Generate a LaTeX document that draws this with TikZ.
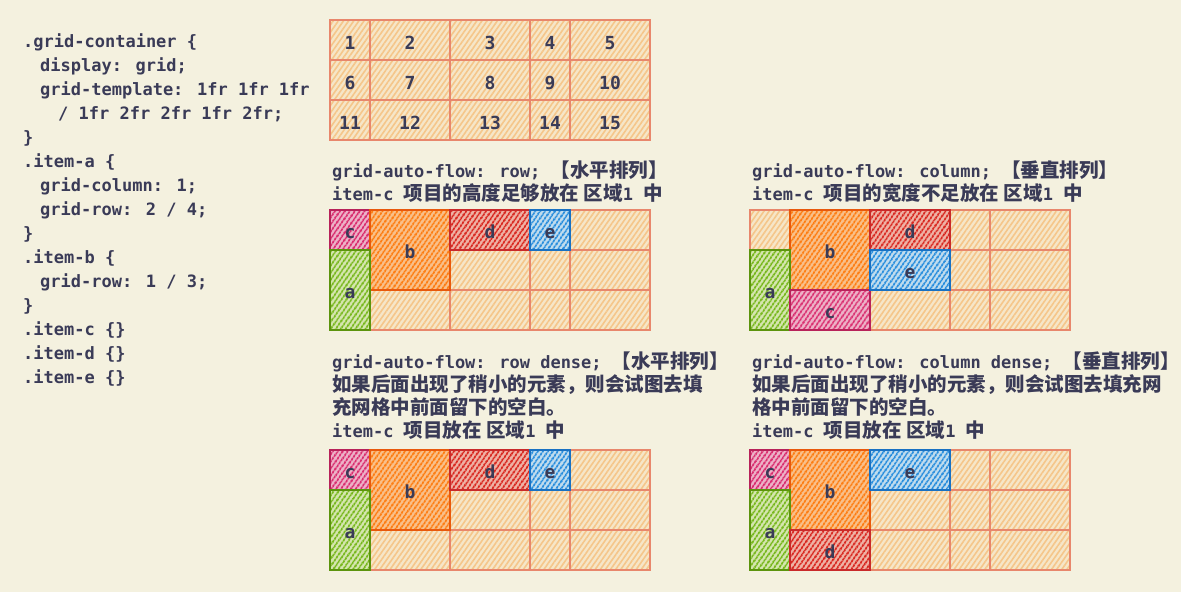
\documentclass[tikz,border=0pt]{standalone}
\usepackage{fontspec}
\setmainfont{DejaVu Sans Mono}
\newfontfamily\cjk{Noto Sans CJK SC}
\usetikzlibrary{patterns.meta}
\definecolor{bg}{HTML}{F4F1DF}
\definecolor{txt}{HTML}{3A3B57}
\definecolor{cellline}{HTML}{E8876C}
\definecolor{cellhatch}{HTML}{F5C68A}
\definecolor{cellfill}{HTML}{F6E6C8}
\definecolor{magS}{HTML}{B8225A}\definecolor{magH}{HTML}{DA2F70}\definecolor{magF}{HTML}{EDB3C8}
\definecolor{oraS}{HTML}{E8590C}\definecolor{oraH}{HTML}{FD7E14}\definecolor{oraF}{HTML}{F9C08A}
\definecolor{redS}{HTML}{C92A2A}\definecolor{redH}{HTML}{D92A22}\definecolor{redF}{HTML}{EFB3A6}
\definecolor{bluS}{HTML}{1971C2}\definecolor{bluH}{HTML}{2B8FDD}\definecolor{bluF}{HTML}{C2DDEE}
\definecolor{grnS}{HTML}{5C940D}\definecolor{grnH}{HTML}{78B81E}\definecolor{grnF}{HTML}{D6E6B0}
\tikzset{
  x=1pt,y=-1pt,
  cell/.style={draw=cellline, line width=1.3pt, preaction={fill=cellfill},
    pattern={Lines[angle=55,distance=4.2pt,line width=1.6pt]}, pattern color=cellhatch},
  itembox/.style={line width=1.8pt, inner sep=0pt, outer sep=0pt, text=txt,
    font=\fontsize{18}{18}\selectfont\bfseries, text height=17pt, text depth=0pt,
    pattern={Lines[angle=55,distance=4pt,line width=2.3pt]}},
  imag/.style={itembox, draw=magS, preaction={fill=magF}, pattern color=magH},
  iora/.style={itembox, draw=oraS, preaction={fill=oraF}, pattern color=oraH},
  ired/.style={itembox, draw=redS, preaction={fill=redF}, pattern color=redH},
  iblu/.style={itembox, draw=bluS, preaction={fill=bluF}, pattern color=bluH},
  igrn/.style={itembox, draw=grnS, preaction={fill=grnF}, pattern color=grnH},
  codeline/.style={anchor=base west, inner sep=0pt, text=txt, font=\fontsize{17}{17}\selectfont\bfseries},
  head/.style={anchor=base west, inner sep=0pt, text=txt, font=\fontsize{17}{17}\selectfont\bfseries},
  num/.style={inner sep=0pt, text=txt, font=\fontsize{18}{18}\selectfont\bfseries},
}
\newcommand\zh[1]{{\cjk\fontsize{19.5}{19.5}\selectfont\bfseries #1}}
\newcommand\drawcellgrid{%
  \foreach \xa/\xb in {0/40,40/120,120/200,200/240,240/320}{
    \foreach \ya/\yb in {0/40,40/80,80/120}{
      \path[cell] (\xa,\ya) rectangle (\xb,\yb);
    }
  }%
}
\begin{document}
\begin{tikzpicture}
\useasboundingbox (0,0) rectangle (1181,592);
\fill[bg] (0,0) rectangle (1181,592);

% code
\node[codeline] (l1) at (23,47) {.grid-container \{};
\node[codeline] (l2) at (40,71) {display: grid;};
\node[codeline] (l3) at (40,95) {grid-template: 1fr 1fr 1fr};
\node[codeline] (l4) at (58,119) {/ 1fr 2fr 2fr 1fr 2fr;};
\node[codeline] (l5) at (23,143) {\}};
\node[codeline] (l6) at (23,167) {.item-a \{};
\node[codeline] (l7) at (40,191) {grid-column: 1;};
\node[codeline] (l8) at (40,215) {grid-row: 2 / 4;};
\node[codeline] (l9) at (23,239) {\}};
\node[codeline] (l10) at (23,263) {.item-b \{};
\node[codeline] (l11) at (40,287) {grid-row: 1 / 3;};
\node[codeline] (l12) at (23,311) {\}};
\node[codeline] (l13) at (23,335) {.item-c \{\}};
\node[codeline] (l14) at (23,359) {.item-d \{\}};
\node[codeline] (l15) at (23,383) {.item-e \{\}};

% top numbered grid
\begin{scope}[shift={(330,20)}]
  \drawcellgrid
  \foreach \cx [count=\i] in {20,80,160,220,280}{
    \foreach \cy [count=\j] in {40,80,120}{
      \pgfmathtruncatemacro\n{(\j-1)*5+\i}
      \node[num] (n\n) at (\cx,\cy-17) {\n};
    }
  }
\end{scope}

% headings
\node[head] (h2a) at (332,177) {grid-auto-flow: row; \zh{【水平排列】}};
\node[head] (h2b) at (332,200) {item-c \zh{项目的高度足够放在 区域}1 \zh{中}};
\node[head] (h3a) at (752,177) {grid-auto-flow: column; \zh{【垂直排列】}};
\node[head] (h3b) at (752,200) {item-c \zh{项目的宽度不足放在 区域}1 \zh{中}};
\node[head] (h4a) at (332,368) {grid-auto-flow: row dense; \zh{【水平排列】}};
\node[head] (h4b) at (332,391) {\zh{如果后面出现了稍小的元素，则会试图去填}};
\node[head] (h4c) at (332,414) {\zh{充网格中前面留下的空白。}};
\node[head] (h4d) at (332,437) {item-c \zh{项目放在 区域}1 \zh{中}};
\node[head] (h5a) at (752,368) {grid-auto-flow: column dense; \zh{【垂直排列】}};
\node[head] (h5b) at (752,391) {\zh{如果后面出现了稍小的元素，则会试图去填充网}};
\node[head] (h5c) at (752,414) {\zh{格中前面留下的空白。}};
\node[head] (h5d) at (752,437) {item-c \zh{项目放在 区域}1 \zh{中}};

% grid: row
\begin{scope}[shift={(330,210)}]
  \drawcellgrid
  \node[imag, minimum width=40pt, minimum height=40pt] (g2c) at (20,20) {c};
  \node[iora, minimum width=80pt, minimum height=80pt] (g2b) at (80,40) {b};
  \node[ired, minimum width=80pt, minimum height=40pt] (g2d) at (160,20) {d};
  \node[iblu, minimum width=40pt, minimum height=40pt] (g2e) at (220,20) {e};
  \node[igrn, minimum width=40pt, minimum height=80pt] (g2a) at (20,80) {a};
\end{scope}

% grid: column
\begin{scope}[shift={(750,210)}]
  \drawcellgrid
  \node[iora, minimum width=80pt, minimum height=80pt] (g3b) at (80,40) {b};
  \node[igrn, minimum width=40pt, minimum height=80pt] (g3a) at (20,80) {a};
  \node[imag, minimum width=80pt, minimum height=40pt] (g3c) at (80,100) {c};
  \node[ired, minimum width=80pt, minimum height=40pt] (g3d) at (160,20) {d};
  \node[iblu, minimum width=80pt, minimum height=40pt] (g3e) at (160,60) {e};
\end{scope}

% grid: row dense
\begin{scope}[shift={(330,450)}]
  \drawcellgrid
  \node[imag, minimum width=40pt, minimum height=40pt] (g4c) at (20,20) {c};
  \node[iora, minimum width=80pt, minimum height=80pt] (g4b) at (80,40) {b};
  \node[ired, minimum width=80pt, minimum height=40pt] (g4d) at (160,20) {d};
  \node[iblu, minimum width=40pt, minimum height=40pt] (g4e) at (220,20) {e};
  \node[igrn, minimum width=40pt, minimum height=80pt] (g4a) at (20,80) {a};
\end{scope}

% grid: column dense
\begin{scope}[shift={(750,450)}]
  \drawcellgrid
  \node[imag, minimum width=40pt, minimum height=40pt] (g5c) at (20,20) {c};
  \node[iora, minimum width=80pt, minimum height=80pt] (g5b) at (80,40) {b};
  \node[igrn, minimum width=40pt, minimum height=80pt] (g5a) at (20,80) {a};
  \node[ired, minimum width=80pt, minimum height=40pt] (g5d) at (80,100) {d};
  \node[iblu, minimum width=80pt, minimum height=40pt] (g5e) at (160,20) {e};
\end{scope}
\end{tikzpicture}
\end{document}
